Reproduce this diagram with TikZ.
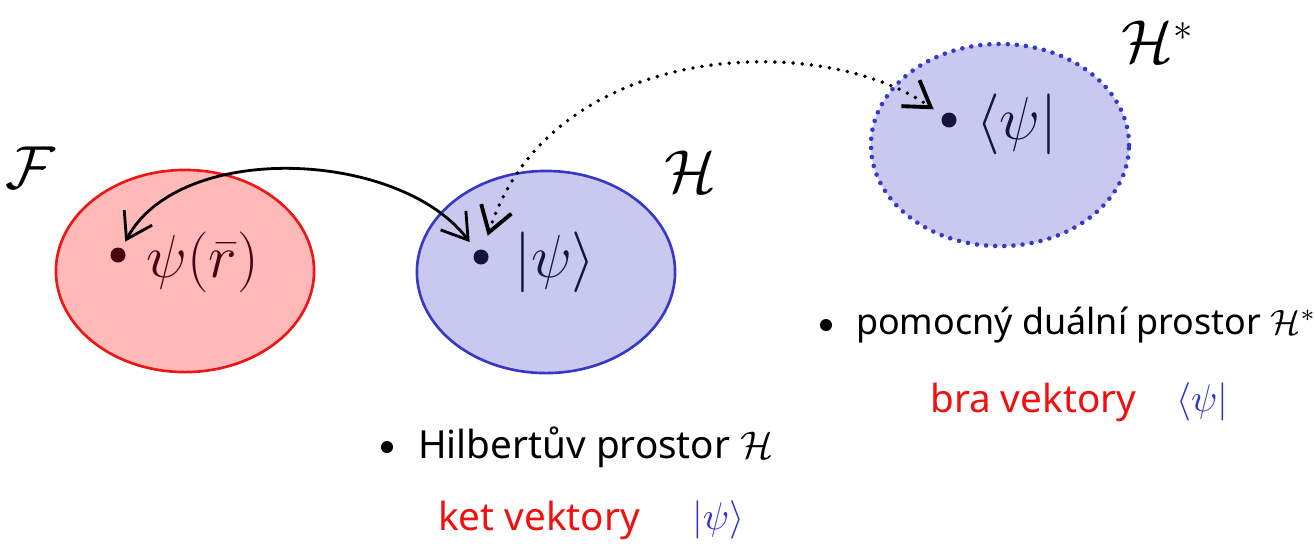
\documentclass[tikz,border=0pt]{standalone}
\usepackage{fontspec}
\setmainfont{Noto Sans}
\usetikzlibrary{arrows.meta,shapes.geometric}
\definecolor{fred}{HTML}{F01515}
\definecolor{ffill}{HTML}{FFB9B9}
\definecolor{hblue}{HTML}{3838C8}
\definecolor{hfill}{HTML}{C9C9F0}
\definecolor{dmaroon}{HTML}{4A0010}
\definecolor{dnavy}{HTML}{14143C}
\definecolor{kred}{HTML}{F01010}
\definecolor{kblue}{HTML}{3232D2}
\begin{document}
\begin{tikzpicture}[x=0.01cm,y=-0.01cm,
  space/.style={ellipse, minimum width=2.58cm, minimum height=2.02cm, line width=0.75pt},
  dots/.style={line cap=round, dash pattern=on 0pt off 2.6pt, line width=1.3pt},
  pt/.style={circle, inner sep=0pt, minimum size=0.15cm},
  lab/.style={inner sep=1pt, font=\fontsize{16}{18}\selectfont},
  txt/.style={inner sep=1pt, anchor=west, font=\fontsize{11}{13}\selectfont},
  bul/.style={circle, fill=black, inner sep=0pt, minimum size=0.12cm},
  conn/.style={line width=0.8pt, {Straight Barb[length=7pt,width=9pt]}-{Straight Barb[length=7pt,width=9pt]}}]
\useasboundingbox (0,0) rectangle (1315,550);
% spaces
\node[space, draw=fred, fill=ffill] (F) at (185,271) {};
\node[space, draw=hblue, fill=hfill] (H) at (546,272) {};
\node[space, draw=hblue, fill=hfill, dots] (Hs) at (1000,145) {};
% space names
\node[lab] (Fn) at (30,168) {$\mathcal{F}$};
\node[lab] (Hn) at (690,172) {$\mathcal{H}$};
\node[lab] (Hsn) at (1158,42) {$\mathcal{H}^{*}$};
% points
\node[pt, fill=dmaroon] (fdot) at (118,255) {};
\node[pt, fill=dnavy] (hdot) at (481,257) {};
\node[pt, fill=dnavy] (hsdot) at (949,120) {};
\node[lab, text=dmaroon, anchor=west] (flab) at (142,262) {$\psi(\bar r)$};
\node[lab, text=dnavy, anchor=west] (hlab) at (510,262) {$|\psi\rangle$};
\node[lab, text=dnavy, anchor=west] (hslab) at (972,124) {$\langle\psi|$};
% connectors
\draw[conn, shorten <=2pt, shorten >=3pt] (fdot) .. controls (180,140) and (400,150) .. (hdot);
\draw[conn, dots, line width=1.1pt, shorten <=4pt, shorten >=3pt] (hdot) .. controls (550,40) and (820,30) .. (hsdot);
% texts
\node[bul] (b1) at (387,447) {};
\node[txt] (t1) at (414,447) {Hilbertův prostor $\mathcal{H}$};
\node[txt, text=kred] (t2) at (434,520) {ket vektory};
\node[txt, text=kblue] (t3) at (688,520) {$|\psi\rangle$};
\node[bul] (b2) at (826,325) {};
\node[txt, font=\fontsize{10.2}{12}\selectfont] (t4) at (852,325) {pomocný duální prostor $\mathcal{H}^{*}$};
\node[txt, text=kred] (t5) at (926,402) {bra vektory};
\node[txt, text=kblue] (t6) at (1172,402) {$\langle\psi|$};
\end{tikzpicture}
\end{document}
